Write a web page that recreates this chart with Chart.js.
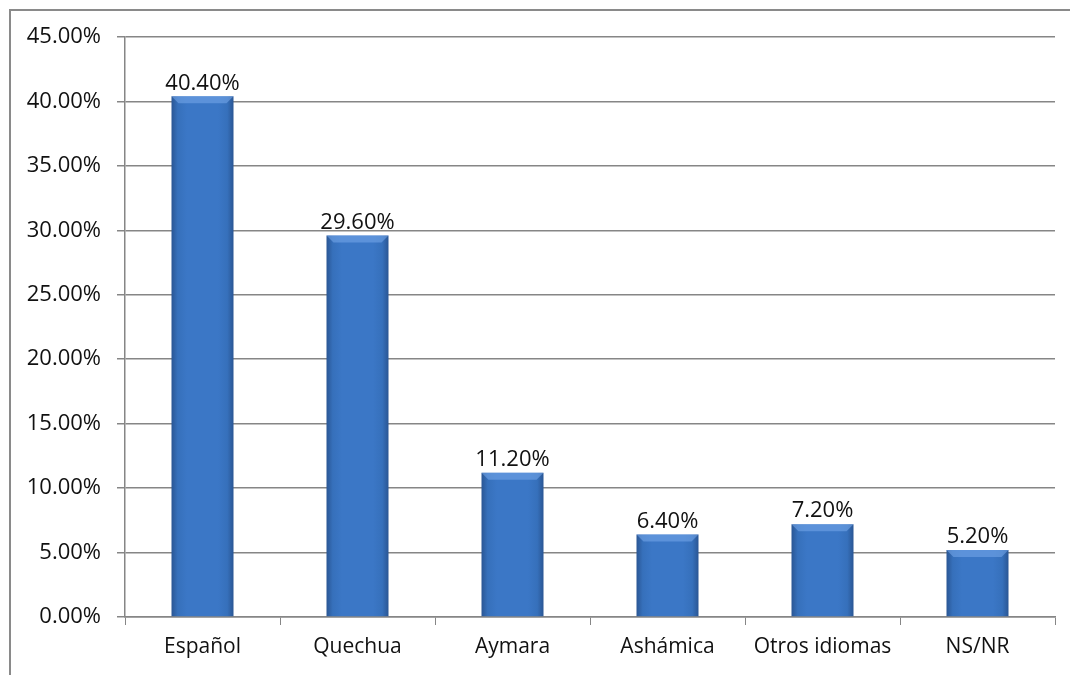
<!DOCTYPE html>
<html>
<head>
<meta charset="utf-8">
<script src="https://cdn.jsdelivr.net/npm/chart.js@4.4.0/dist/chart.umd.min.js"></script>
<style>
html,body{margin:0;padding:0;background:#fff;}
#wrap{width:1070px;height:675px;position:relative;}
</style>
</head>
<body>
<div id="wrap"><canvas id="c" width="1070" height="675"></canvas></div>
<script>
const categories = ["Español", "Quechua", "Aymara", "Ashámica", "Otros idiomas", "NS/NR"];
const values = [40.4, 29.6, 11.2, 6.4, 7.2, 5.2];
const yMin = 0, yMax = 45, yStep = 5;

const FONT = "'Open Sans', sans-serif";

const gradientPlugin = {
  id: 'grad',
  beforeDatasetsDraw(chart) {
    const meta = chart.getDatasetMeta(0);
    const c = chart.ctx;
    meta.data.forEach(bar => {
      const w = bar.width;
      if (!Number.isFinite(bar.x) || !Number.isFinite(w)) return;
      const g = c.createLinearGradient(bar.x - w / 2, 0, bar.x + w / 2, 0);
      g.addColorStop(0, '#2a5694');
      g.addColorStop(0.1, '#3670bb');
      g.addColorStop(0.25, '#3b77c6');
      g.addColorStop(0.75, '#3b77c6');
      g.addColorStop(0.9, '#3670bb');
      g.addColorStop(1, '#2a5694');
      bar.options.backgroundColor = g;
    });
  }
};

const framePlugin = {
  id: 'frame',
  beforeDraw(chart) {
    const c = chart.ctx;
    c.save();
    c.strokeStyle = '#8a8a8a';
    c.lineWidth = 2;
    c.beginPath();
    c.moveTo(10, 700);
    c.lineTo(10, 10);
    c.lineTo(1080, 10);
    c.stroke();
    c.restore();
  }
};

const bevelPlugin = {
  id: 'bevel',
  afterDatasetsDraw(chart) {
    const meta = chart.getDatasetMeta(0);
    const c = chart.ctx;
    c.save();
    meta.data.forEach(bar => {
      const w = bar.width, x0 = bar.x - w / 2, x1 = bar.x + w / 2, y = bar.y;
      const b = 7;
      c.fillStyle = 'rgba(120,170,235,0.55)';
      c.beginPath();
      c.moveTo(x0, y); c.lineTo(x1, y); c.lineTo(x1 - b, y + b); c.lineTo(x0 + b, y + b); c.closePath();
      c.fill();
    });
    c.restore();
  }
};

const labelPlugin = {
  id: 'vals',
  afterDatasetsDraw(chart) {
    const meta = chart.getDatasetMeta(0);
    const c = chart.ctx;
    c.save();
    c.font = "22px " + FONT;
    c.fillStyle = '#111';
    c.textAlign = 'center';
    c.textBaseline = 'bottom';
    meta.data.forEach((bar, i) => {
      c.fillText(values[i].toFixed(2) + '%', bar.x, bar.y - 2);
    });
    c.restore();
  }
};

new Chart(document.getElementById('c'), {
  type: 'bar',
  data: {
    labels: categories,
    datasets: [{
      data: values,
      backgroundColor: (ctx) => '#3a73c0',
      borderWidth: 0,
      barPercentage: 0.5,
      categoryPercentage: 0.8
    }]
  },
  options: {
    responsive: false,
    animation: false,
    devicePixelRatio: 1,
    layout: { padding: { left: 0, right: 15, top: 37, bottom: 0 } },
    plugins: { legend: { display: false }, tooltip: { enabled: false } },
    scales: {
      x: {
        offset: true,
        grid: { display: true, drawOnChartArea: false, tickLength: 8, color: '#868686', offset: true },
        border: { display: true, color: '#868686', width: 1.5 },
        ticks: { color: '#111', font: { family: FONT, size: 21 }, padding: 9, maxRotation: 0 },
        afterFit(s) { s.height = 58; }
      },
      y: {
        min: yMin, max: yMax,
        ticks: { stepSize: yStep, color: '#111', font: { family: FONT, size: 22 }, padding: 16,
          callback: v => v.toFixed(2) + '%' },
        grid: { color: '#868686', lineWidth: 1.5, tickLength: 8 },
        border: { display: true, color: '#868686', width: 1.5 },
        afterFit(s) { s.width = 125; }
      }
    }
  },
  plugins: [framePlugin, gradientPlugin, bevelPlugin, labelPlugin]
});
</script>
</body>
</html>
